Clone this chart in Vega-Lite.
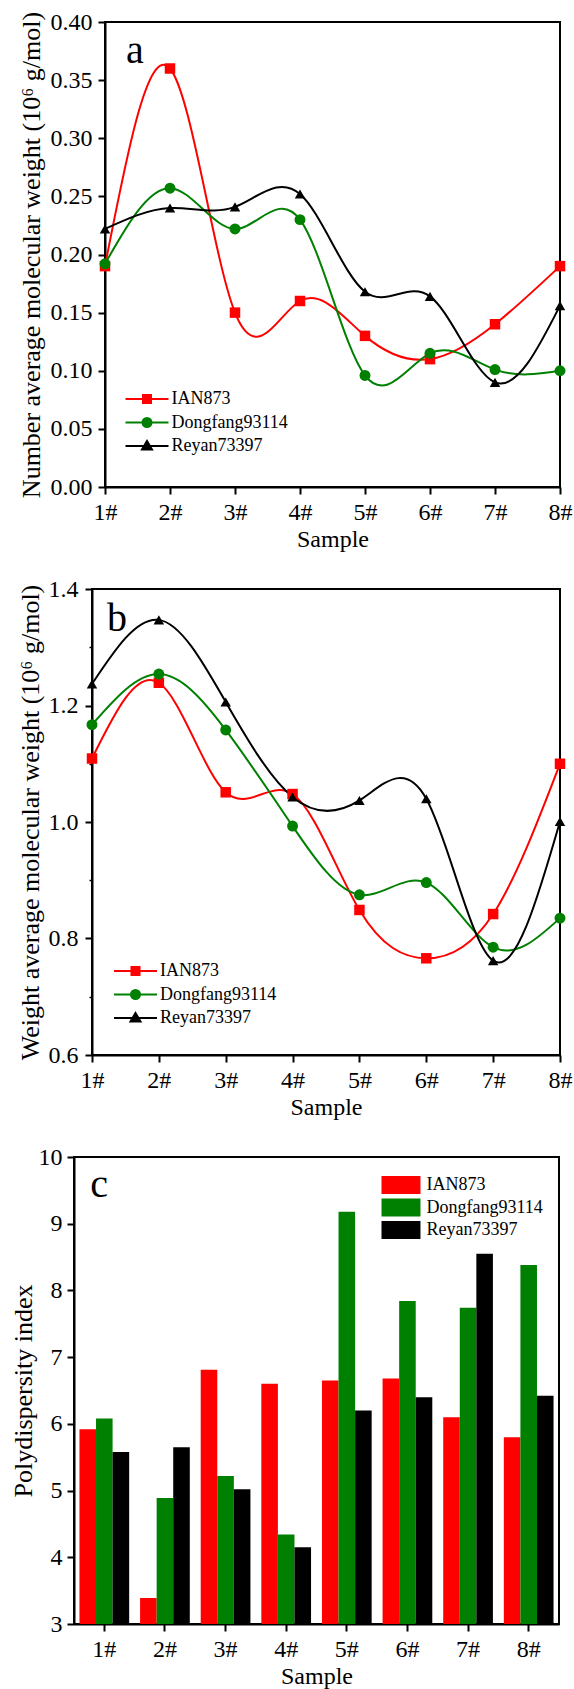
{
  "$schema": "https://vega.github.io/schema/vega-lite/v6.json",
  "background": "white",
  "padding": {"left": 8, "top": 9, "right": 2, "bottom": 2},
  "spacing": 24,
  "config": {
    "font": "Liberation Serif",
    "view": {"stroke": "black", "strokeWidth": 2},
    "axis": {
      "domainColor": "black", "domainWidth": 2, "tickColor": "black",
      "labelColor": "black", "titleColor": "black",
      "labelFont": "Liberation Serif", "titleFont": "Liberation Serif",
      "labelFontSize": 24, "titleFontWeight": "normal", "grid": false,
      "labelOverlap": false, "labelFlush": false
    },
    "axisX": {"titleFontSize": 24, "tickSize": 7, "labelPadding": 6, "titlePadding": 3, "minExtent": 37, "maxExtent": 37},
    "axisY": {"titleFontSize": 26},
    "legend": {
      "labelFont": "Liberation Serif", "labelFontSize": 18, "labelColor": "black",
      "padding": 0, "orient": "none"
    }
  },
  "resolve": {"scale": {"color": "independent", "shape": "independent"}, "legend": {"color": "independent", "shape": "independent"}},
  "datasets": {
    "mn": [
      {"n": 1, "series": "IAN873", "value": 0.19},
      {"n": 2, "series": "IAN873", "value": 0.36},
      {"n": 3, "series": "IAN873", "value": 0.15},
      {"n": 4, "series": "IAN873", "value": 0.16},
      {"n": 5, "series": "IAN873", "value": 0.13},
      {"n": 6, "series": "IAN873", "value": 0.11},
      {"n": 7, "series": "IAN873", "value": 0.14},
      {"n": 8, "series": "IAN873", "value": 0.19},
      {"n": 1, "series": "Dongfang93114", "value": 0.192},
      {"n": 2, "series": "Dongfang93114", "value": 0.257},
      {"n": 3, "series": "Dongfang93114", "value": 0.222},
      {"n": 4, "series": "Dongfang93114", "value": 0.23},
      {"n": 5, "series": "Dongfang93114", "value": 0.096},
      {"n": 6, "series": "Dongfang93114", "value": 0.115},
      {"n": 7, "series": "Dongfang93114", "value": 0.101},
      {"n": 8, "series": "Dongfang93114", "value": 0.1},
      {"n": 1, "series": "Reyan73397", "value": 0.222},
      {"n": 2, "series": "Reyan73397", "value": 0.24},
      {"n": 3, "series": "Reyan73397", "value": 0.241},
      {"n": 4, "series": "Reyan73397", "value": 0.252},
      {"n": 5, "series": "Reyan73397", "value": 0.168},
      {"n": 6, "series": "Reyan73397", "value": 0.164},
      {"n": 7, "series": "Reyan73397", "value": 0.09},
      {"n": 8, "series": "Reyan73397", "value": 0.156}
    ],
    "mw": [
      {"n": 1, "series": "IAN873", "value": 1.109},
      {"n": 2, "series": "IAN873", "value": 1.239},
      {"n": 3, "series": "IAN873", "value": 1.051},
      {"n": 4, "series": "IAN873", "value": 1.048},
      {"n": 5, "series": "IAN873", "value": 0.849},
      {"n": 6, "series": "IAN873", "value": 0.766},
      {"n": 7, "series": "IAN873", "value": 0.842},
      {"n": 8, "series": "IAN873", "value": 1.1},
      {"n": 1, "series": "Dongfang93114", "value": 1.167},
      {"n": 2, "series": "Dongfang93114", "value": 1.254},
      {"n": 3, "series": "Dongfang93114", "value": 1.158},
      {"n": 4, "series": "Dongfang93114", "value": 0.993},
      {"n": 5, "series": "Dongfang93114", "value": 0.875},
      {"n": 6, "series": "Dongfang93114", "value": 0.896},
      {"n": 7, "series": "Dongfang93114", "value": 0.785},
      {"n": 8, "series": "Dongfang93114", "value": 0.835},
      {"n": 1, "series": "Reyan73397", "value": 1.237},
      {"n": 2, "series": "Reyan73397", "value": 1.347},
      {"n": 3, "series": "Reyan73397", "value": 1.206},
      {"n": 4, "series": "Reyan73397", "value": 1.043},
      {"n": 5, "series": "Reyan73397", "value": 1.037},
      {"n": 6, "series": "Reyan73397", "value": 1.04},
      {"n": 7, "series": "Reyan73397", "value": 0.762},
      {"n": 8, "series": "Reyan73397", "value": 1.001}
    ],
    "pdi": [
      {"sample": "1#", "series": "IAN873", "value": 5.92},
      {"sample": "1#", "series": "Dongfang93114", "value": 6.08},
      {"sample": "1#", "series": "Reyan73397", "value": 5.58},
      {"sample": "2#", "series": "IAN873", "value": 3.39},
      {"sample": "2#", "series": "Dongfang93114", "value": 4.89},
      {"sample": "2#", "series": "Reyan73397", "value": 5.65},
      {"sample": "3#", "series": "IAN873", "value": 6.81},
      {"sample": "3#", "series": "Dongfang93114", "value": 5.22},
      {"sample": "3#", "series": "Reyan73397", "value": 5.02},
      {"sample": "4#", "series": "IAN873", "value": 6.6},
      {"sample": "4#", "series": "Dongfang93114", "value": 4.34},
      {"sample": "4#", "series": "Reyan73397", "value": 4.15},
      {"sample": "5#", "series": "IAN873", "value": 6.65},
      {"sample": "5#", "series": "Dongfang93114", "value": 9.18},
      {"sample": "5#", "series": "Reyan73397", "value": 6.2},
      {"sample": "6#", "series": "IAN873", "value": 6.68},
      {"sample": "6#", "series": "Dongfang93114", "value": 7.84},
      {"sample": "6#", "series": "Reyan73397", "value": 6.4},
      {"sample": "7#", "series": "IAN873", "value": 6.1},
      {"sample": "7#", "series": "Dongfang93114", "value": 7.74},
      {"sample": "7#", "series": "Reyan73397", "value": 8.55},
      {"sample": "8#", "series": "IAN873", "value": 5.8},
      {"sample": "8#", "series": "Dongfang93114", "value": 8.38},
      {"sample": "8#", "series": "Reyan73397", "value": 6.42}
    ]
  },
  "vconcat": [
    {
      "spacing": 0,
      "hconcat": [
        {"width": 8, "height": 1, "data": {"values": []}, "mark": "point", "view": {"stroke": null}},
        {
          "width": 455, "height": 465,
          "data": {"name": "mn"},
          "layer": [
            {"mark": {"type": "line", "interpolate": "natural", "strokeWidth": 2},
              "encoding": {
                "x": {"field": "n", "type": "quantitative", "title": "Sample",
                  "scale": {"domain": [1, 8], "nice": false, "zero": false},
                  "axis": {
                    "values": [1, 1.5, 2, 2.5, 3, 3.5, 4, 4.5, 5, 5.5, 6, 6.5, 7, 7.5, 8],
                    "labelExpr": "datum.value % 1 === 0 ? datum.value + '#' : ''",
                    "tickSize": {"condition": {"test": "datum.value % 1 === 0", "value": 7}, "value": 3},
                    "tickWidth": {"condition": {"test": "datum.value % 1 === 0", "value": 2}, "value": 1.5}}},
                "y": {"field": "value", "type": "quantitative", "title": "Number average molecular weight (10⁶ g/mol)",
                  "scale": {"domain": [0, 0.4], "nice": false, "zero": false},
                  "axis": {
                    "values": [0, 0.025, 0.05, 0.075, 0.1, 0.125, 0.15, 0.175, 0.2, 0.225, 0.25, 0.275, 0.3, 0.325, 0.35, 0.375, 0.4],
                    "labelExpr": "abs(datum.value * 20 - round(datum.value * 20)) < 0.001 ? format(datum.value, '.2f') : ''",
                    "tickSize": {"condition": {"test": "abs(datum.value * 20 - round(datum.value * 20)) < 0.001", "value": 7}, "value": 3},
                    "tickWidth": {"condition": {"test": "abs(datum.value * 20 - round(datum.value * 20)) < 0.001", "value": 2}, "value": 1.5},
                    "labelPadding": 6, "minExtent": 55, "maxExtent": 55, "titlePadding": 6}},
                "color": {"field": "series", "type": "nominal",
                  "scale": {"domain": ["IAN873", "Dongfang93114", "Reyan73397"], "range": ["#ff0000", "#008000", "#000000"]},
                  "legend": {"title": null, "legendX": 117.5, "legendY": 366, "symbolSize": 400, "symbolStrokeWidth": 2, "symbolOpacity": 1,
                    "labelOffset": 24, "rowPadding": 3.5}}
              }},
            {"mark": {"type": "point", "filled": true, "opacity": 0},
              "encoding": {
                "x": {"field": "n", "type": "quantitative", "title": "Sample"},
                "y": {"field": "value", "type": "quantitative", "title": "Number average molecular weight (10⁶ g/mol)"},
                "color": {"field": "series", "type": "nominal",
                  "scale": {"domain": ["IAN873", "Dongfang93114", "Reyan73397"], "range": ["#ff0000", "#008000", "#000000"]},
                  "legend": {"title": null, "legendX": 117.5, "legendY": 366, "symbolSize": 400, "symbolStrokeWidth": 2, "symbolOpacity": 1,
                    "labelOffset": 24, "rowPadding": 3.5}},
                "shape": {"field": "series", "type": "nominal",
                  "scale": {"domain": ["IAN873", "Dongfang93114", "Reyan73397"],
                    "range": ["M-1.1,0H3.2M0.65,-0.4H1.45V0.4H0.65Z", "M-1.1,0H3.2M0.6,0A0.45,0.45 0 1,1 1.5,0A0.45,0.45 0 1,1 0.6,0Z", "M-1.1,0H3.2M1.05,-0.5L1.55,0.35H0.55Z"]},
                  "legend": {"title": null, "legendX": 117.5, "legendY": 366, "symbolSize": 400, "symbolStrokeWidth": 2, "symbolOpacity": 1,
                    "labelOffset": 24, "rowPadding": 3.5}}
              }},
            {"transform": [{"filter": "datum.series === 'IAN873'"}],
              "mark": {"type": "point", "filled": true, "shape": "square", "color": "#ff0000", "size": 110, "opacity": 1},
              "encoding": {"x": {"field": "n", "type": "quantitative", "title": "Sample"}, "y": {"field": "value", "type": "quantitative", "title": "Number average molecular weight (10⁶ g/mol)"}}},
            {"transform": [{"filter": "datum.series === 'Dongfang93114'"}],
              "mark": {"type": "point", "filled": true, "shape": "circle", "color": "#008000", "size": 120, "opacity": 1},
              "encoding": {"x": {"field": "n", "type": "quantitative", "title": "Sample"}, "y": {"field": "value", "type": "quantitative", "title": "Number average molecular weight (10⁶ g/mol)"}}},
            {"transform": [{"filter": "datum.series === 'Reyan73397'"}],
              "mark": {"type": "point", "filled": true, "shape": "triangle-up", "color": "#000000", "size": 110, "opacity": 1},
              "encoding": {"x": {"field": "n", "type": "quantitative", "title": "Sample"}, "y": {"field": "value", "type": "quantitative", "title": "Number average molecular weight (10⁶ g/mol)"}}},
            {"data": {"values": [{"label": "a"}]},
              "mark": {"type": "text", "font": "Liberation Serif", "fontSize": 40, "align": "left", "baseline": "alphabetic", "dx": 21, "color": "black"},
              "encoding": {"x": {"datum": 1, "type": "quantitative", "title": "Sample"}, "y": {"datum": 0.365, "type": "quantitative", "title": "Number average molecular weight (10⁶ g/mol)"}, "text": {"field": "label"}}}
          ]
        }
      ]
    },
    {
      "spacing": 0,
      "hconcat": [
        {"width": 8, "height": 1, "data": {"values": []}, "mark": "point", "view": {"stroke": null}},
        {
          "width": 468, "height": 466,
          "data": {"name": "mw"},
          "layer": [
            {"mark": {"type": "line", "interpolate": "natural", "strokeWidth": 2},
              "encoding": {
                "x": {"field": "n", "type": "quantitative", "title": "Sample",
                  "scale": {"domain": [1, 8], "nice": false, "zero": false},
                  "axis": {
                    "values": [1, 1.5, 2, 2.5, 3, 3.5, 4, 4.5, 5, 5.5, 6, 6.5, 7, 7.5, 8],
                    "labelExpr": "datum.value % 1 === 0 ? datum.value + '#' : ''",
                    "tickSize": {"condition": {"test": "datum.value % 1 === 0", "value": 7}, "value": 3},
                    "tickWidth": {"condition": {"test": "datum.value % 1 === 0", "value": 2}, "value": 1.5}}},
                "y": {"field": "value", "type": "quantitative", "title": "Weight average molecular weight (10⁶ g/mol)",
                  "scale": {"domain": [0.6, 1.4], "nice": false, "zero": false},
                  "axis": {
                    "values": [0.6, 0.7, 0.8, 0.9, 1.0, 1.1, 1.2, 1.3, 1.4],
                    "labelExpr": "abs(datum.value * 5 - round(datum.value * 5)) < 0.001 ? format(datum.value, '.1f') : ''",
                    "tickSize": {"condition": {"test": "abs(datum.value * 5 - round(datum.value * 5)) < 0.001", "value": 7}, "value": 3},
                    "tickWidth": {"condition": {"test": "abs(datum.value * 5 - round(datum.value * 5)) < 0.001", "value": 2}, "value": 1.5},
                    "labelPadding": 7, "minExtent": 44, "maxExtent": 44, "titlePadding": 4.5}},
                "color": {"field": "series", "type": "nominal",
                  "scale": {"domain": ["IAN873", "Dongfang93114", "Reyan73397"], "range": ["#ff0000", "#008000", "#000000"]},
                  "legend": {"title": null, "legendX": 106, "legendY": 371, "symbolSize": 400, "symbolStrokeWidth": 2, "symbolOpacity": 1,
                    "labelOffset": 24, "rowPadding": 3.5}}
              }},
            {"mark": {"type": "point", "filled": true, "opacity": 0},
              "encoding": {
                "x": {"field": "n", "type": "quantitative", "title": "Sample"},
                "y": {"field": "value", "type": "quantitative", "title": "Weight average molecular weight (10⁶ g/mol)"},
                "color": {"field": "series", "type": "nominal",
                  "scale": {"domain": ["IAN873", "Dongfang93114", "Reyan73397"], "range": ["#ff0000", "#008000", "#000000"]},
                  "legend": {"title": null, "legendX": 106, "legendY": 371, "symbolSize": 400, "symbolStrokeWidth": 2, "symbolOpacity": 1,
                    "labelOffset": 24, "rowPadding": 3.5}},
                "shape": {"field": "series", "type": "nominal",
                  "scale": {"domain": ["IAN873", "Dongfang93114", "Reyan73397"],
                    "range": ["M-1.1,0H3.2M0.65,-0.4H1.45V0.4H0.65Z", "M-1.1,0H3.2M0.6,0A0.45,0.45 0 1,1 1.5,0A0.45,0.45 0 1,1 0.6,0Z", "M-1.1,0H3.2M1.05,-0.5L1.55,0.35H0.55Z"]},
                  "legend": {"title": null, "legendX": 106, "legendY": 371, "symbolSize": 400, "symbolStrokeWidth": 2, "symbolOpacity": 1,
                    "labelOffset": 24, "rowPadding": 3.5}}
              }},
            {"transform": [{"filter": "datum.series === 'IAN873'"}],
              "mark": {"type": "point", "filled": true, "shape": "square", "color": "#ff0000", "size": 110, "opacity": 1},
              "encoding": {"x": {"field": "n", "type": "quantitative", "title": "Sample"}, "y": {"field": "value", "type": "quantitative", "title": "Weight average molecular weight (10⁶ g/mol)"}}},
            {"transform": [{"filter": "datum.series === 'Dongfang93114'"}],
              "mark": {"type": "point", "filled": true, "shape": "circle", "color": "#008000", "size": 120, "opacity": 1},
              "encoding": {"x": {"field": "n", "type": "quantitative", "title": "Sample"}, "y": {"field": "value", "type": "quantitative", "title": "Weight average molecular weight (10⁶ g/mol)"}}},
            {"transform": [{"filter": "datum.series === 'Reyan73397'"}],
              "mark": {"type": "point", "filled": true, "shape": "triangle-up", "color": "#000000", "size": 110, "opacity": 1},
              "encoding": {"x": {"field": "n", "type": "quantitative", "title": "Sample"}, "y": {"field": "value", "type": "quantitative", "title": "Weight average molecular weight (10⁶ g/mol)"}}},
            {"data": {"values": [{"label": "b"}]},
              "mark": {"type": "text", "font": "Liberation Serif", "fontSize": 40, "align": "left", "baseline": "alphabetic", "dx": 15, "color": "black"},
              "encoding": {"x": {"datum": 1, "type": "quantitative", "title": "Sample"}, "y": {"datum": 1.3286, "type": "quantitative", "title": "Weight average molecular weight (10⁶ g/mol)"}, "text": {"field": "label"}}}
          ]
        }
      ]
    },
    {
      "spacing": 0,
      "hconcat": [
        {"width": 1, "height": 1, "data": {"values": []}, "mark": "point", "view": {"stroke": null}},
        {
          "width": 485, "height": 467,
          "data": {"name": "pdi"},
          "layer": [
            {"mark": {"type": "bar", "clip": true},
              "encoding": {
                "x": {"field": "sample", "type": "nominal", "sort": null, "title": "Sample",
                  "scale": {"paddingInner": 0.18, "paddingOuter": 0.09},
                  "axis": {"labelAngle": 0, "tickWidth": 2}},
                "xOffset": {"field": "series", "type": "nominal", "scale": {"domain": ["IAN873", "Dongfang93114", "Reyan73397"]}},
                "y": {"field": "value", "type": "quantitative", "title": "Polydispersity index",
                  "scale": {"domain": [3, 10], "nice": false, "zero": false},
                  "axis": {
                    "values": [3, 3.5, 4, 4.5, 5, 5.5, 6, 6.5, 7, 7.5, 8, 8.5, 9, 9.5, 10],
                    "labelExpr": "datum.value % 1 === 0 ? format(datum.value, 'd') : ''",
                    "tickSize": {"condition": {"test": "datum.value % 1 === 0", "value": 7}, "value": 3},
                    "tickWidth": {"condition": {"test": "datum.value % 1 === 0", "value": 2}, "value": 1.5},
                    "labelPadding": 5, "minExtent": 36, "maxExtent": 36, "titlePadding": 2}},
                "color": {"field": "series", "type": "nominal",
                  "scale": {"domain": ["IAN873", "Dongfang93114", "Reyan73397"], "range": ["#ff0000", "#008000", "#000000"]},
                  "legend": {"title": null, "legendX": 373.5, "legendY": 19, "symbolSize": 324, "symbolStrokeWidth": 0,
                    "symbolType": "M-1,-1H3.33V1H-1Z", "labelOffset": 27, "rowPadding": 4.5}}
              }},
            {"data": {"values": [{"label": "c"}]},
              "mark": {"type": "text", "font": "Liberation Serif", "fontSize": 40, "align": "left", "baseline": "alphabetic", "dx": -14, "color": "black"},
              "encoding": {"x": {"datum": "1#", "type": "nominal", "title": "Sample"}, "y": {"datum": 9.4, "type": "quantitative", "title": "Polydispersity index"}, "text": {"field": "label"}}}
          ]
        }
      ]
    }
  ]
}
